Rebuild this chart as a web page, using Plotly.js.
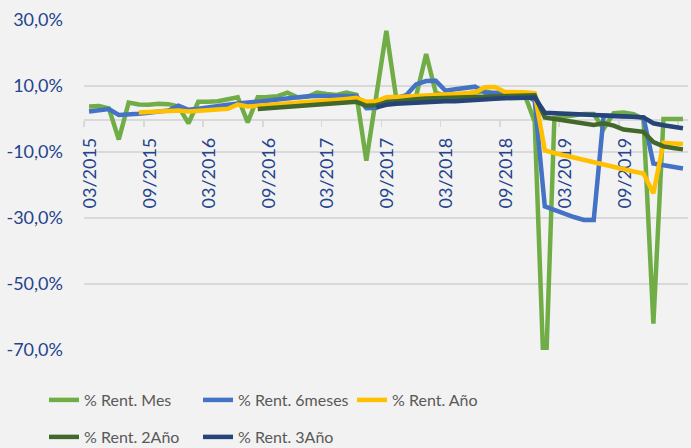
<!DOCTYPE html>
<html>
<head>
<meta charset="utf-8">
<script src="https://cdn.plot.ly/plotly-3.0.1.min.js"></script>
<style>
html,body{margin:0;padding:0;background:#f2f2f2;}
#chart{width:691px;height:448px;}
</style>
</head>
<body>
<div id="chart"></div>
<script>
var months = [
  '2015-03','2015-04','2015-05','2015-06','2015-07','2015-08','2015-09','2015-10','2015-11','2015-12',
  '2016-01','2016-02','2016-03','2016-04','2016-05','2016-06','2016-07','2016-08','2016-09','2016-10',
  '2016-11','2016-12','2017-01','2017-02','2017-03','2017-04','2017-05','2017-06','2017-07','2017-08',
  '2017-09','2017-10','2017-11','2017-12','2018-01','2018-02','2018-03','2018-04','2018-05','2018-06',
  '2018-07','2018-08','2018-09','2018-10','2018-11','2018-12','2019-01','2019-02','2019-03','2019-04',
  '2019-05','2019-06','2019-07','2019-08','2019-09','2019-10','2019-11','2019-12','2020-01','2020-02',
  '2020-03'
];

var seriesNames = ['% Rent. Mes', '% Rent. 6meses', '% Rent. Año', '% Rent. 2Año', '% Rent. 3Año'];

var rentMes = [
  3.8, 3.9, 3.2, -6.2, 5.0, 4.4, 4.3, 4.6, 4.5, 3.8,
  -1.3, 5.2, 5.2, 5.4, 6.0, 6.6, -1.0, 6.6, 6.7, 6.9,
  8.0, 6.6, 6.7, 8.0, 7.6, 7.3, 8.0, 7.3, -12.6, 7.0,
  26.7, 6.3, 6.3, 6.8, 19.7, 8.0, 7.0, 7.2, 7.5, 8.0,
  8.5, 7.5, 7.5, 7.5, 7.2, -0.8, -86.0, 0.3, 0.8, 1.2,
  1.5, 1.5, -3.0, 1.8, 2.0, 1.5, 0.0, -62.0, 0.0, 0.0,
  0.0
];

var rent6Meses = [
  2.3, 2.8, 3.0, 1.2, 1.3, 1.6, 1.9, 2.2, 2.6, 4.0,
  2.8, 3.1, 3.4, 3.8, 4.3, 4.7, 4.9, 5.2, 5.5, 5.9,
  6.3, 6.7, 6.9, 7.0, 7.0, 7.1, 7.2, 7.0, 3.3, 3.4,
  5.5, 6.3, 7.2, 10.5, 11.5, 11.6, 8.6, 9.0, 9.4, 9.8,
  8.0, 8.0, 8.0, 7.8, 7.6, 5.5, -26.5, -27.6, -28.8, -29.7,
  -30.6, -30.6, 1.0, 0.9, 0.8, 0.7, 0.5, -13.5, -14.0, -14.5,
  -15.0
];

var rentAno = [
  null, null, null, null, null, 2.0, 2.2, 2.3, 2.4, 2.6,
  2.3, 2.5, 2.7, 2.9, 3.1, 4.4, 3.8, 4.0, 4.2, 4.5,
  4.8, 5.1, 5.3, 5.5, 5.7, 5.9, 6.1, 6.4, 5.2, 5.4,
  6.6, 6.7, 6.8, 7.1, 7.3, 7.4, 7.5, 7.6, 7.8, 8.0,
  9.6, 9.7, 8.2, 8.2, 8.1, 7.8, -9.5, -10.3, -11.0, -11.8,
  -12.5, -13.2, -13.9, -14.6, -15.3, -15.9, -16.5, -22.5, -7.2, -7.4,
  -7.6
];

var rent2Ano = [
  null, null, null, null, null, null, null, null, null, null,
  null, null, null, null, null, null, null, 3.0, 3.2, 3.4,
  3.6, 3.8, 4.0, 4.2, 4.4, 4.6, 4.9, 5.2, 4.0, 4.2,
  5.0, 5.4, 5.7, 6.0, 6.2, 6.3, 6.4, 6.5, 6.7, 6.9,
  7.0, 7.1, 7.2, 7.3, 7.3, 7.2, 0.5, 0.0, -0.5, -1.0,
  -1.5, -1.8, -1.3, -2.0, -3.2, -3.5, -3.9, -7.0, -8.3, -8.8,
  -9.2
];

var rent3Ano = [
  null, null, null, null, null, null, null, null, null, null,
  null, null, null, null, null, null, null, null, null, null,
  null, null, null, null, null, null, null, null, null, 3.5,
  4.3, 4.6, 4.8, 5.0, 5.2, 5.3, 5.4, 5.4, 5.5, 5.8,
  6.0, 6.1, 6.3, 6.4, 6.5, 6.5, 1.9, 1.8, 1.7, 1.6,
  1.5, 1.4, 1.2, 1.1, 0.9, 0.7, 0.5, -1.3, -1.9, -2.3,
  -2.8
];

var yTickVals = [30, 10, -10, -30, -50, -70];
var yTickText = ['30,0%', '10,0%', '-10,0%', '-30,0%', '-50,0%', '-70,0%'];

var seriesValues = [rentMes, rent6Meses, rentAno, rent2Ano, rent3Ano];
var seriesColors = ['#70AD47', '#4472C4', '#FFC000', '#43682B', '#264478'];
var legendOf = ['legend', 'legend', 'legend', 'legend2', 'legend2'];

var traces = seriesValues.map(function (vals, k) {
  return {
    type: 'scatter',
    mode: 'lines',
    name: seriesNames[k],
    x: months,
    y: vals,
    xperiod: 'M1',
    xperiodalignment: 'middle',
    connectgaps: false,
    line: {color: seriesColors[k], width: 4.5, shape: 'linear'},
    legend: legendOf[k],
    hoverinfo: 'skip'
  };
});

var tickBlue = '#24448c';
var legendFont = {family: 'Lato, sans-serif', size: 16, color: '#595959'};

var layout = {
  width: 691,
  height: 448,
  margin: {l: 84, r: 3, t: 20, b: 98, pad: 0, autoexpand: false},
  paper_bgcolor: '#f2f2f2',
  plot_bgcolor: '#f2f2f2',
  font: {family: 'Lato, sans-serif', size: 18, color: tickBlue},
  showlegend: true,
  xaxis: {
    type: 'date',
    range: ['2015-03-01', '2020-04-01'],
    tick0: '2015-03-01',
    dtick: 'M6',
    tickformat: '%m/%Y',
    tickangle: -90,
    ticks: 'outside',
    ticklen: 6,
    tickwidth: 1.5,
    tickcolor: '#d9d9d9',
    ticklabelshift: 6,
    ticklabelstandoff: 4,
    showline: true,
    linecolor: '#d9d9d9',
    linewidth: 1.5,
    showgrid: false,
    zeroline: false,
    anchor: 'free',
    position: 0.7,
    layer: 'below traces',
    automargin: false,
    tickfont: {family: 'Lato, sans-serif', size: 18, color: tickBlue},
    fixedrange: true
  },
  yaxis: {
    range: [-70, 30],
    tickmode: 'array',
    tickvals: yTickVals,
    ticktext: yTickText,
    showgrid: true,
    gridcolor: '#d9d9d9',
    gridwidth: 1.5,
    zeroline: false,
    showline: false,
    ticks: '',
    ticklabelstandoff: 20,
    automargin: false,
    tickfont: {family: 'Lato, sans-serif', size: 18, color: tickBlue},
    fixedrange: true
  },
  legend: {
    orientation: 'h',
    x: -0.0662,
    xanchor: 'left',
    y: -0.1515,
    yanchor: 'middle',
    bgcolor: 'rgba(0,0,0,0)',
    font: legendFont,
    entrywidth: 109,
    entrywidthmode: 'pixels',
    itemwidth: 30,
    traceorder: 'normal'
  },
  legend2: {
    orientation: 'h',
    x: -0.0662,
    xanchor: 'left',
    y: -0.2636,
    yanchor: 'middle',
    bgcolor: 'rgba(0,0,0,0)',
    font: legendFont,
    entrywidth: 109,
    entrywidthmode: 'pixels',
    itemwidth: 30,
    traceorder: 'normal'
  }
};

Plotly.newPlot('chart', traces, layout, {displayModeBar: false, staticPlot: true});
</script>
</body>
</html>
